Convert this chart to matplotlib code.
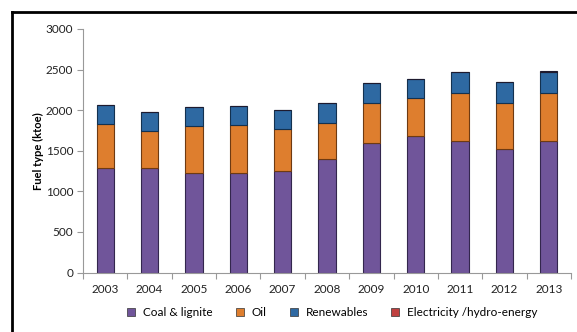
import matplotlib.pyplot as plt
from matplotlib.lines import Line2D
import numpy as np

plt.rcParams['font.family'] = ['Lato', 'DejaVu Sans']

years = ['2003', '2004', '2005', '2006', '2007', '2008', '2009', '2010', '2011', '2012', '2013']
coal = [1289, 1289, 1232, 1224, 1248, 1404, 1592, 1682, 1625, 1527, 1625]
oil = [545, 459, 577, 598, 520, 442, 491, 463, 589, 565, 589]
renewables = [229, 225, 225, 225, 230, 237, 246, 241, 254, 253, 262]
electricity = [1, 1, 1, 1, 1, 1, 1, 1, 1, 1, 1]

series = [
    ('Coal & lignite', coal, '#70559A', '#33264D'),
    ('Oil', oil, '#DE7E2E', '#6E3A12'),
    ('Renewables', renewables, '#2E69A2', '#13314F'),
    ('Electricity /hydro-energy', electricity, '#C0403F', '#1E1A2E'),
]

fig = plt.figure(figsize=(5.77, 3.32), dpi=100)
ax = fig.add_axes([0.1438, 0.179, 0.8458, 0.7337])

x = np.arange(len(years))
bottom = np.zeros(len(years))
handles = []
for name, vals, col, edge in series:
    ax.bar(x, vals, width=0.39, bottom=bottom, color=col,
           edgecolor=edge, linewidth=0.8)
    bottom += np.array(vals)
    handles.append(Line2D([], [], marker='s', linestyle='none', markersize=5.5,
                          markerfacecolor=col, markeredgecolor='#333333',
                          markeredgewidth=0.5, label=name))

ax.set_xlim(-0.5, len(years) - 0.5)
ax.set_ylim(0, 3000)
ax.set_yticks(range(0, 3001, 500))
ax.set_xticks(x)
ax.set_xticklabels(years, fontsize=8.5, color='#222222')
ax.set_xticks(np.arange(-0.5, len(years)), minor=True)
ax.tick_params(axis='x', which='major', length=0, pad=8)
ax.tick_params(axis='x', which='minor', length=4, color='#999999', width=0.8)
ax.tick_params(axis='y', length=4, color='#999999', width=0.8,
               labelsize=8.5, labelcolor='#222222', pad=3)
for s in ['top', 'right']:
    ax.spines[s].set_visible(False)
for s in ['left', 'bottom']:
    ax.spines[s].set_color('#999999')
    ax.spines[s].set_linewidth(0.8)

ax.set_ylabel('Fuel type (ktoe)', fontsize=8, fontweight='bold', labelpad=1.5)

fig.legend(handles=handles, loc='center', bbox_to_anchor=(0.569, 0.058),
           ncol=4, frameon=False, fontsize=8.5, handletextpad=0.0,
           columnspacing=1.3, borderaxespad=0)

# black frame lines along the top and left edges
fig.add_artist(Line2D([12 / 577, 1], [1 - 12 / 332, 1 - 12 / 332],
                      color='black', linewidth=2, transform=fig.transFigure))
fig.add_artist(Line2D([12 / 577, 12 / 577], [0, 1 - 12 / 332],
                      color='black', linewidth=2, transform=fig.transFigure))

fig.savefig('out.png', dpi=100)
